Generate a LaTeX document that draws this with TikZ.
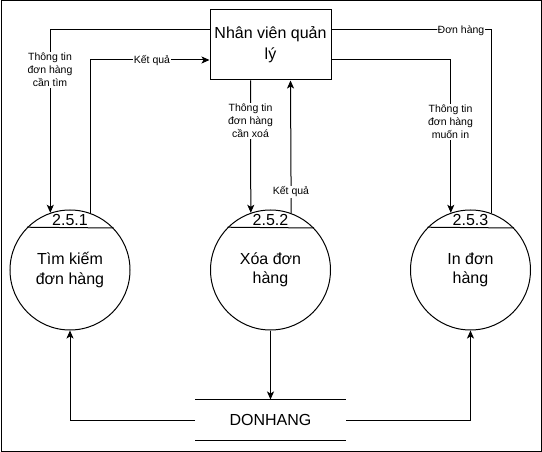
\documentclass[tikz,border=0pt]{standalone}
\usepackage{fontspec}
\setmainfont{Liberation Sans}
\usetikzlibrary{arrows.meta,calc}
\begin{document}
\begin{tikzpicture}[x=1pt,y=-1pt, line width=1pt,
 proc/.style={draw, circle, minimum size=120pt, inner sep=0pt, align=center, font=\fontsize{16}{19.5}\selectfont},
 ent/.style={draw, rectangle, minimum width=121pt, minimum height=70pt, inner sep=0pt, align=center, font=\fontsize{16}{21}\selectfont},
 lbl/.style={fill=white, inner sep=1pt, align=center, font=\fontsize{10.5}{13.2}\selectfont},
 num/.style={inner sep=0pt, font=\fontsize{16}{19}\selectfont},
 flow/.style={-{Stealth[length=8pt,width=7pt,inset=2pt]}}]
\useasboundingbox (0,0) rectangle (542,452);
\node[draw, minimum width=540pt, minimum height=450pt, inner sep=0pt, anchor=north west] (frame) at (0.5,0.5) {};
% nodes
\node[ent] (mgr) at (270.5,45) {Nhân viên quản\\lý};
\node[proc] (c1) at (70,270) {Tìm kiếm\\đơn hàng};
\node[proc] (c2) at (270.5,270) {Xóa đơn\\hàng};
\node[proc] (c3) at (470.5,270) {In đơn\\hàng};
\node[minimum width=150pt, minimum height=40pt, inner sep=0pt, font=\fontsize{16}{19}\selectfont] (ds) at (270.5,420) {DONHANG};
\draw (ds.north west) -- (ds.north east);
\draw (ds.south west) -- (ds.south east);
% chords and numbers
\foreach \c/\t in {c1/2.5.1, c2/2.5.2, c3/2.5.3}{
  \draw (\c.135.57) -- (\c.44.43);
  \node[num] at ($(\c.center)+(0,-50)$) {\t};
}
% connectors
\draw[flow] ([yshift=15pt]mgr.west) -| (c1.109.47);
\draw[flow] (c1.70.53) |- ([yshift=-15pt]mgr.west);
\draw[flow] ([xshift=-20pt]mgr.south) -- (c2.109.47);
\draw[flow] (c2.70.53) -- ([xshift=20pt]mgr.south);
\draw[flow] ([yshift=-15pt]mgr.east) -| (c3.109.47);
\draw (c3.70.53) |- ([yshift=15pt]mgr.east);
\draw[flow] (c2.south) -- (ds.north);
\draw[flow] (ds.west) -| (c1.south);
\draw[flow] (ds.east) -| (c3.south);
% labels
\node[lbl] (l1) at (50,70) {Thông tin\\đơn hàng\\cần tìm};
\node[lbl] (l2) at (152,61) {Kết quả};
\node[lbl] (l3) at (250.5,121) {Thông tin\\đơn hàng\\cần xoá};
\node[lbl] (l4) at (291,192) {Kết quả};
\node[lbl] (l5) at (461,31) {Đơn hàng};
\node[lbl] (l6) at (450.5,122) {Thông tin\\đơn hàng\\muốn in};
\end{tikzpicture}
\end{document}
